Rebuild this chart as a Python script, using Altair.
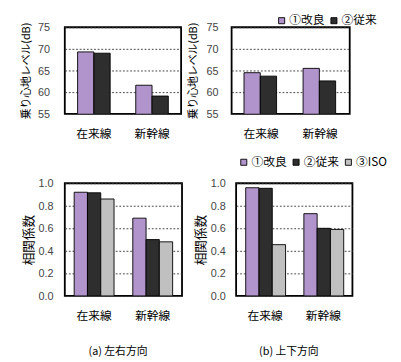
import altair as alt
import pandas as pd

cats = ["在来線", "新幹線"]
series = ["①改良", "②従来", "③ISO"]
colors = ["#b294cc", "#2e2e2e", "#c0c0c0"]

# (a) 左右方向
lr_level_kairyo = [69.3, 61.6]
lr_level_jurai = [69.0, 59.1]
lr_corr_kairyo = [0.92, 0.69]
lr_corr_jurai = [0.915, 0.50]
lr_corr_iso = [0.86, 0.48]
# (b) 上下方向
ud_level_kairyo = [64.5, 65.5]
ud_level_jurai = [63.7, 62.6]
ud_corr_kairyo = [0.96, 0.73]
ud_corr_jurai = [0.955, 0.60]
ud_corr_iso = [0.455, 0.59]

level_ticks = [55, 60, 65, 70, 75]
corr_ticks = [0.0, 0.2, 0.4, 0.6, 0.8, 1.0]

JP = "Noto Sans CJK JP"
NUM = "Liberation Sans"


def make_df(*vals):
    rows = []
    for s, v in zip(series, vals):
        for c, x in zip(cats, v):
            rows.append({"cat": c, "series": s, "value": x})
    return pd.DataFrame(rows)


def panel(df, n, domain, ticks, fmt, ytitle, tsize, lpad, tpad, w, h, pad, legend=None, caption=None):
    enc_color = alt.Color(
        "series:N",
        scale=alt.Scale(domain=series[:n], range=colors[:n]),
        sort=series[:n],
        legend=legend,
    )
    ch = alt.Chart(df).mark_bar(stroke="black", strokeWidth=1, clip=True).encode(
        x=alt.X(
            "cat:N",
            sort=cats,
            scale=alt.Scale(paddingInner=pad, paddingOuter=pad / 2),
            axis=alt.Axis(
                title=None, labelAngle=0, ticks=False, domain=False,
                labelFont=JP, labelFontSize=13, labelColor="black", labelPadding=16,
            ),
        ),
        xOffset=alt.XOffset("series:N", sort=series[:n], scale=alt.Scale(paddingInner=0, paddingOuter=0)),
        y=alt.Y(
            "value:Q",
            scale=alt.Scale(domain=domain, zero=False, nice=False),
            axis=alt.Axis(
                values=ticks, format=fmt, ticks=False, domain=False,
                grid=True, gridDash=[2, 2], gridColor="#333333", gridWidth=1,
                labelFont=NUM, labelFontSize=12, labelColor="#444444", labelPadding=lpad,
                title=ytitle, titleFont=JP, titleFontSize=tsize, titleFontWeight="normal",
                titleColor="black", titlePadding=tpad,
            ),
        ),
        color=enc_color,
    )
    props = dict(width=w, height=h)
    if caption is not None:
        props["title"] = alt.TitleParams(
            caption, orient="bottom", font=JP, fontSize=12, fontWeight="normal",
            color="black", offset=28, dx=-6,
        )
    return ch.properties(**props)


def leg(x, y):
    return alt.Legend(
        orient="none", legendX=x, legendY=y, direction="horizontal", title=None,
        symbolType="square", symbolSize=45, symbolStrokeColor="black", symbolStrokeWidth=1,
        labelFont=JP, labelFontSize=13, labelColor="black", labelOffset=2,
        columnPadding=3, symbolOpacity=1,
    )


tl = panel(make_df(lr_level_kairyo, lr_level_jurai), 2, [55, 75], level_ticks, "d",
           "乗り心地レベル(dB)", 12, 17, 6, 129, 96, 0.44)
tr = panel(make_df(ud_level_kairyo, ud_level_jurai), 2, [55, 75], level_ticks, "d",
           "乗り心地レベル(dB)", 12, 15, 8, 131, 96, 0.42, legend=leg(49, -14))
bl = panel(make_df(lr_corr_kairyo, lr_corr_jurai, lr_corr_iso), 3, [0, 1], corr_ticks, ".1f",
           "相関係数", 14, 13, 3, 130, 125, 0.32, caption="(a)  左右方向")
br = panel(make_df(ud_corr_kairyo, ud_corr_jurai, ud_corr_iso), 3, [0, 1], corr_ticks, ".1f",
           "相関係数", 14, 12, 3, 129, 125, 0.33, legend=leg(2, -30), caption="(b)  上下方向")

top = alt.hconcat(tl, tr, spacing=56, bounds="flush").resolve_scale(color="independent", x="independent", y="independent")
bottom = alt.hconcat(bl, br, spacing=60, bounds="flush").resolve_scale(color="independent", x="independent", y="independent")

chart = alt.vconcat(top, bottom, spacing=16).resolve_scale(
    color="independent", x="independent", y="independent", xOffset="independent"
).configure_view(stroke="black", strokeWidth=2).properties(
    padding={"left": 12, "top": -14, "right": 5, "bottom": 5}, background="white"
)

chart.save("out.html", embed_options={"renderer": "svg", "actions": False})
